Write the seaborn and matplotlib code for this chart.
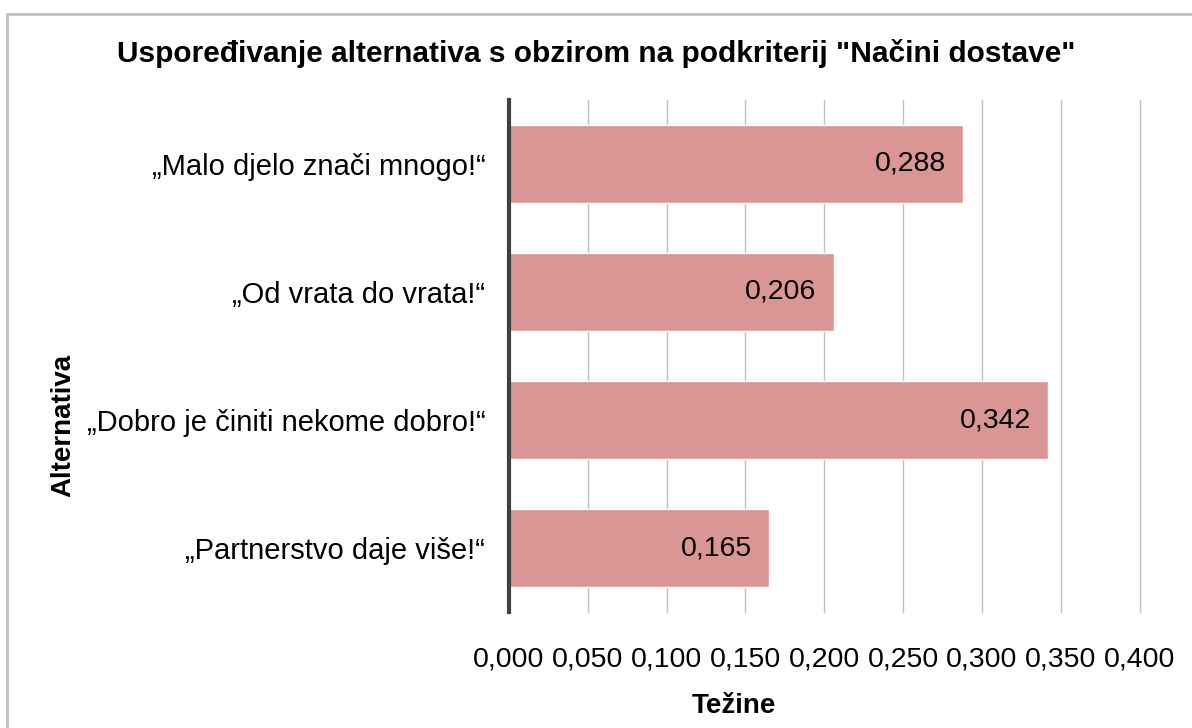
import matplotlib
matplotlib.use('Agg')
import matplotlib.pyplot as plt
import matplotlib.patches as mpatches
import pandas as pd
import seaborn as sns

# Data
alternatives = [
    '„Malo djelo znači mnogo!“',
    '„Od vrata do vrata!“',
    '„Dobro je činiti nekome dobro!“',
    '„Partnerstvo daje više!“',
]
weights = [0.288, 0.206, 0.342, 0.165]
x_ticks = [0.0, 0.05, 0.1, 0.15, 0.2, 0.25, 0.3, 0.35, 0.4]

df = pd.DataFrame({'Alternativa': alternatives, 'Težine': weights})

sns.set_theme(style='white')
plt.rcParams['font.family'] = ['Liberation Sans', 'DejaVu Sans']

fig = plt.figure(figsize=(11.92, 7.28), dpi=100)
ax = fig.add_axes([0.427, 0.159, 0.529, 0.704])

sns.barplot(data=df, x='Težine', y='Alternativa', orient='h',
            color='#d99694', saturation=1, width=0.61, ax=ax)

for bar, val in zip(ax.patches, weights):
    ax.text(bar.get_width() - 0.011, bar.get_y() + bar.get_height() / 2,
            f'{val:.3f}'.replace('.', ','), ha='right', va='center',
            fontsize=20.5, color='black')

ax.set_xlim(0, 0.4)
ax.set_xticks(x_ticks)
ax.set_xticklabels([f'{t:.3f}'.replace('.', ',') for t in x_ticks], fontsize=20.5)
ax.tick_params(axis='y', labelsize=21, length=0, pad=17, labelcolor='black')
ax.tick_params(axis='x', length=0, pad=25, labelcolor='black')
ax.grid(axis='x', color='#bfbfbf', linewidth=1)
for line in ax.get_xgridlines():
    line.set_clip_on(False)
ax.set_axisbelow(True)
for s in ['top', 'right', 'bottom']:
    ax.spines[s].set_visible(False)
ax.spines['left'].set_color('#404040')
ax.spines['left'].set_linewidth(3)

ax.set_xlabel('Težine', fontsize=20, fontweight='bold', color='black')
ax.set_ylabel('Alternativa', fontsize=20, fontweight='bold', color='black')
ax.xaxis.set_label_coords(0.356, -0.158)
ax.yaxis.set_label_coords(-0.686, 0.365)
fig.text(0.5, 0.926, 'Uspoređivanje alternativa s obzirom na podkriterij "Načini dostave"',
         ha='center', va='center', fontsize=21.5, fontweight='bold', color='black')

fig.patches.append(mpatches.Rectangle((7 / 1192, -0.01), 1.0, 0.991,
                                      transform=fig.transFigure, fill=False,
                                      edgecolor='#bfbfbf', linewidth=2))

fig.savefig('out.png', dpi=100)
